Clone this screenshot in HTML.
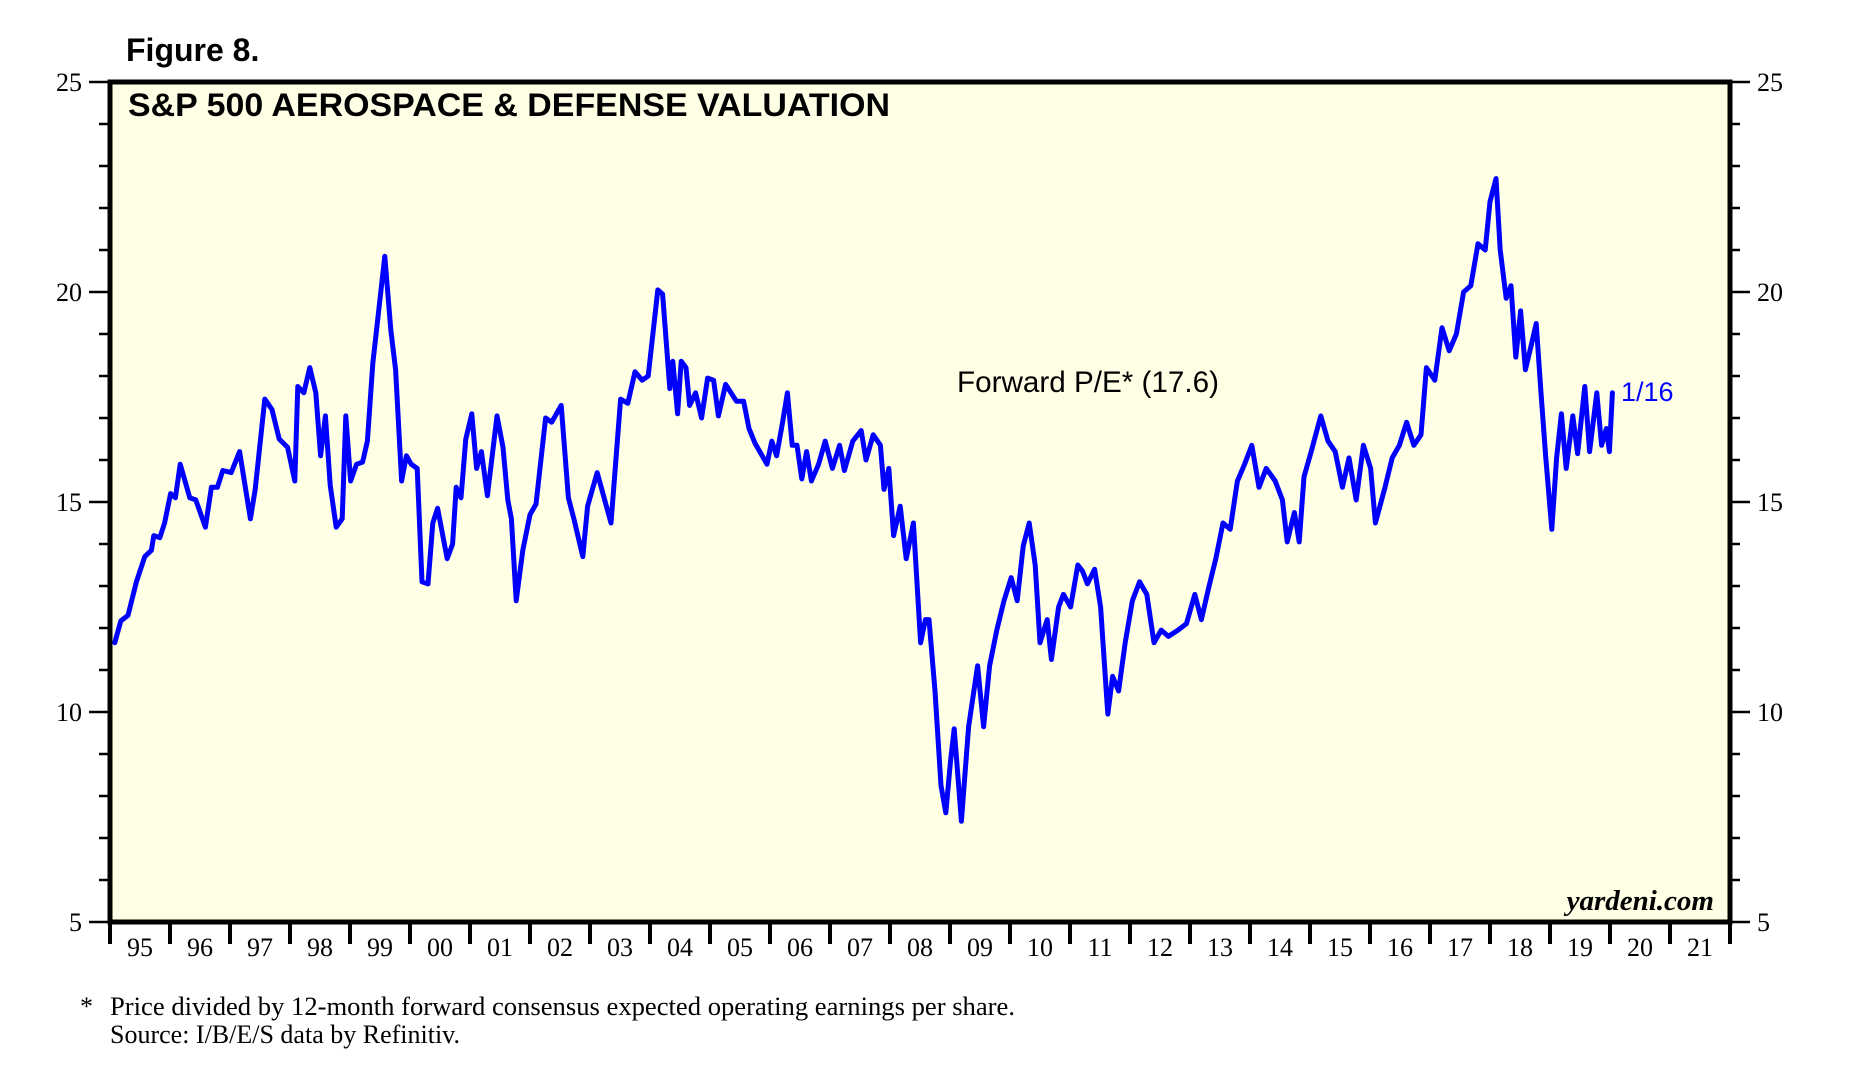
<!DOCTYPE html>
<html><head><meta charset="utf-8">
<style>
html,body{margin:0;padding:0;background:#fff;}
svg{display:block;}
</style></head>
<body>
<svg id="chart" width="1865" height="1068" viewBox="0 0 1865 1068" xmlns="http://www.w3.org/2000/svg">
  <text x="126" y="61" font-family="Liberation Sans, sans-serif" font-weight="bold" font-size="32">Figure 8.</text>
  <rect x="110" y="82" width="1620" height="840" fill="#ffffe6"/>
  <g id="axes"></g>
  <g id="series"></g>
  <rect x="110" y="82" width="1620" height="840" fill="none" stroke="#000" stroke-width="5"/>
  <text x="128" y="116" font-family="Liberation Sans, sans-serif" font-weight="bold" font-size="32" textLength="762" lengthAdjust="spacingAndGlyphs">S&amp;P 500 AEROSPACE &amp; DEFENSE VALUATION</text>
  <text x="957" y="392" font-family="Liberation Sans, sans-serif" font-size="30" textLength="262" lengthAdjust="spacingAndGlyphs">Forward P/E* (17.6)</text>
  <text x="1621" y="401" fill="#0000ff" font-family="Liberation Sans, sans-serif" font-size="27">1/16</text>
  <text x="1714" y="910" text-anchor="end" font-family="Liberation Serif, serif" font-style="italic" font-weight="bold" font-size="29">yardeni.com</text>
  <text x="80" y="1015" font-family="Liberation Serif, serif" font-size="26">*</text>
  <text x="110" y="1015" font-family="Liberation Serif, serif" font-size="26" textLength="905" lengthAdjust="spacingAndGlyphs">Price divided by 12-month forward consensus expected operating earnings per share.</text>
  <text x="110" y="1043" font-family="Liberation Serif, serif" font-size="26">Source: I/B/E/S data by Refinitiv.</text>
</svg>
<script>
const yearLabels = ["95","96","97","98","99","00","01","02","03","04","05","06","07","08","09","10","11","12","13","14","15","16","17","18","19","20","21"];
const yTicks = [5,10,15,20,25];
const yearOffset = [0.08,0.18,0.30,0.44,0.58,0.69,0.73,0.83,0.91,1.01,1.09,1.17,1.33,1.43,1.59,1.69,1.79,1.88,2.02,2.16,2.34,2.42,2.58,2.70,2.82,2.96,3.08,3.13,3.23,3.33,3.43,3.51,3.59,3.67,3.77,3.87,3.93,4.01,4.11,4.21,4.29,4.38,4.58,4.68,4.76,4.86,4.94,5.02,5.12,5.20,5.30,5.38,5.46,5.62,5.71,5.77,5.85,5.93,6.03,6.11,6.19,6.29,6.45,6.55,6.63,6.69,6.77,6.88,7.00,7.10,7.26,7.36,7.52,7.64,7.74,7.88,7.96,8.12,8.35,8.51,8.63,8.75,8.87,8.97,9.13,9.21,9.33,9.38,9.46,9.52,9.60,9.66,9.76,9.86,9.96,10.06,10.14,10.26,10.44,10.56,10.65,10.75,10.95,11.03,11.11,11.21,11.29,11.37,11.45,11.53,11.61,11.69,11.81,11.92,12.04,12.16,12.24,12.38,12.52,12.60,12.72,12.84,12.90,12.98,13.06,13.17,13.27,13.39,13.51,13.59,13.65,13.75,13.85,13.93,14.01,14.07,14.19,14.31,14.46,14.56,14.66,14.78,14.90,15.02,15.12,15.22,15.32,15.42,15.50,15.62,15.69,15.81,15.89,16.01,16.13,16.21,16.29,16.41,16.51,16.63,16.71,16.81,16.92,17.04,17.16,17.28,17.40,17.52,17.64,17.80,17.94,18.08,18.19,18.31,18.43,18.55,18.67,18.79,18.91,19.03,19.15,19.27,19.42,19.54,19.62,19.74,19.82,19.90,20.02,20.18,20.30,20.42,20.54,20.65,20.77,20.89,21.01,21.09,21.25,21.37,21.49,21.61,21.73,21.85,21.94,22.08,22.20,22.32,22.44,22.56,22.68,22.80,22.92,23.00,23.10,23.17,23.27,23.35,23.43,23.51,23.59,23.69,23.77,23.85,23.93,24.03,24.11,24.19,24.27,24.38,24.46,24.58,24.66,24.78,24.86,24.94,24.99,25.04];
const forwardPE = [11.65,12.17,12.3,13.1,13.7,13.85,14.2,14.15,14.5,15.2,15.1,15.9,15.1,15.05,14.4,15.35,15.35,15.75,15.7,16.2,14.6,15.3,17.45,17.2,16.5,16.3,15.5,17.75,17.6,18.2,17.6,16.1,17.05,15.4,14.4,14.6,17.05,15.5,15.9,15.95,16.45,18.3,20.85,19.1,18.15,15.5,16.1,15.9,15.8,13.1,13.05,14.5,14.85,13.65,14.0,15.35,15.1,16.5,17.1,15.8,16.2,15.15,17.05,16.3,15.05,14.6,12.65,13.85,14.7,14.95,17.0,16.9,17.3,15.1,14.55,13.7,14.9,15.7,14.5,17.45,17.35,18.1,17.9,18.0,20.05,19.95,17.7,18.35,17.1,18.35,18.2,17.3,17.6,17.0,17.95,17.9,17.05,17.8,17.4,17.4,16.75,16.4,15.9,16.45,16.1,16.9,17.6,16.35,16.35,15.55,16.2,15.5,15.9,16.45,15.8,16.35,15.75,16.45,16.7,16.0,16.6,16.35,15.3,15.8,14.2,14.9,13.65,14.5,11.65,12.2,12.2,10.5,8.25,7.6,8.85,9.6,7.4,9.65,11.1,9.65,11.1,11.95,12.65,13.2,12.65,13.95,14.5,13.5,11.65,12.2,11.25,12.5,12.8,12.5,13.5,13.35,13.05,13.4,12.5,9.95,10.85,10.5,11.65,12.65,13.1,12.8,11.65,11.95,11.8,11.95,12.1,12.8,12.2,12.95,13.65,14.5,14.35,15.5,15.9,16.35,15.35,15.8,15.5,15.05,14.05,14.75,14.05,15.6,16.2,17.05,16.45,16.2,15.35,16.05,15.05,16.35,15.8,14.5,15.35,16.05,16.35,16.9,16.35,16.6,18.2,17.9,19.15,18.6,19.0,20.0,20.15,21.15,21.0,22.15,22.7,21.0,19.85,20.15,18.45,19.55,18.15,18.75,19.25,17.6,16.05,14.35,16.05,17.1,15.8,17.05,16.15,17.75,16.2,17.6,16.35,16.75,16.2,17.6];

const NS = "http://www.w3.org/2000/svg";
const X0 = 110, X1 = 1730, Y0 = 82, Y1 = 922, START = 1995, END = 2022, VMIN = 5, VMAX = 25;
function xScale(yr){ return X0 + (yr - START) / (END - START) * (X1 - X0); }
function yScale(v){ return Y1 - (v - VMIN) / (VMAX - VMIN) * (Y1 - Y0); }
function mk(tag, attrs){ const e = document.createElementNS(NS, tag); for (const k in attrs) e.setAttribute(k, attrs[k]); return e; }
const axes = document.getElementById('axes');

for (let v = VMIN; v <= VMAX; v++) {
  const y = yScale(v);
  const major = v % 5 === 0;
  const tl = mk('line', {x1: major ? 89 : 99, x2: X0, y1: y, y2: y, stroke: '#000', 'stroke-width': 2.5});
  
  
  axes.appendChild(tl);
  const tr = mk('line', {x1: X1, x2: major ? 1750 : 1740, y1: y, y2: y, stroke: '#000', 'stroke-width': 2.5});
  
  
  axes.appendChild(tr);
}
yTicks.forEach(v => {
  const y = yScale(v);
  const l = mk('text', {x: 82, y: y + 9, 'text-anchor': 'end', 'font-family': 'Liberation Serif, serif', 'font-size': 26});
  l.textContent = v;
  
  
  axes.appendChild(l);
  const r = mk('text', {x: 1757, y: y + 9, 'font-family': 'Liberation Serif, serif', 'font-size': 26});
  r.textContent = v;
  
  
  axes.appendChild(r);
});
for (let i = 0; i <= yearLabels.length; i++) {
  const x = xScale(START + i);
  const t = mk('line', {x1: x, x2: x, y1: Y1, y2: 944, stroke: '#000', 'stroke-width': 4});
  
  
  axes.appendChild(t);
}
yearLabels.forEach((lab, i) => {
  const t = mk('text', {x: xScale(START + i + 0.5), y: 956, 'text-anchor': 'middle', 'font-family': 'Liberation Serif, serif', 'font-size': 26});
  t.textContent = lab;
  
  
  axes.appendChild(t);
});

const pts = yearOffset.map((o, i) => xScale(START + o).toFixed(1) + ',' + yScale(forwardPE[i]).toFixed(1)).join(' ');
const line = mk('polyline', {points: pts, fill: 'none', stroke: '#0000ff', 'stroke-width': 5, 'stroke-linejoin': 'round', 'stroke-linecap': 'round'});


document.getElementById('series').appendChild(line);
</script>
</body></html>
